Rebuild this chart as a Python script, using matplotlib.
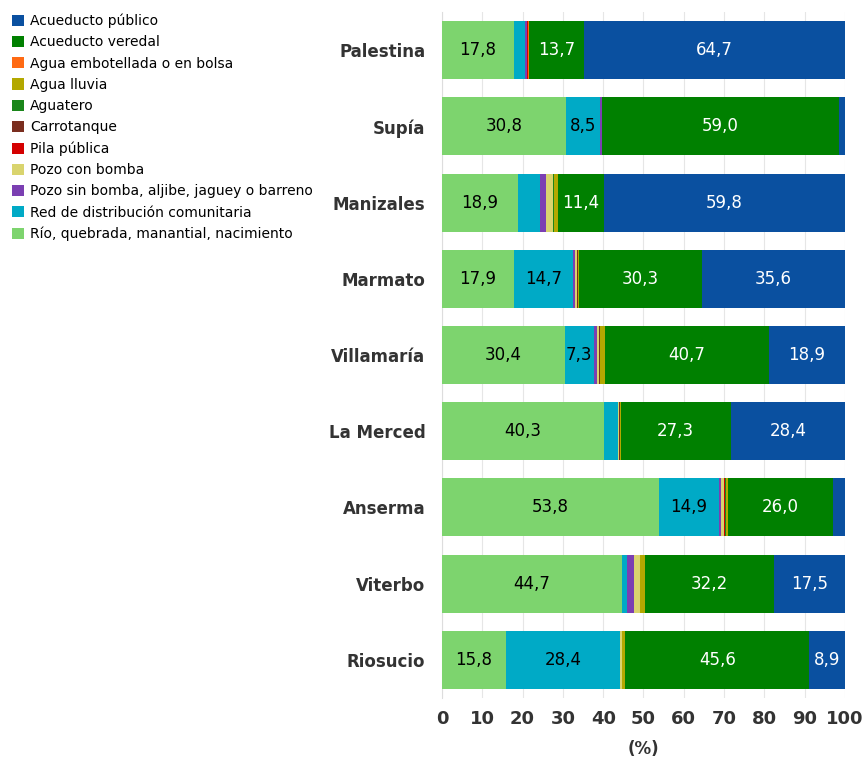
import matplotlib
matplotlib.use("Agg")
import matplotlib.pyplot as plt
import numpy as np
from matplotlib.patches import Patch

# municipios (de arriba hacia abajo)
municipios = ['Palestina', 'Supía', 'Manizales', 'Marmato', 'Villamaría',
              'La Merced', 'Anserma', 'Viterbo', 'Riosucio']

# porcentaje de viviendas por fuente de agua
rio = [17.8, 30.8, 18.9, 17.9, 30.4, 40.3, 53.8, 44.7, 15.8]
red_comunitaria = [2.8, 8.5, 5.4, 14.7, 7.3, 3.3, 14.9, 1.2, 28.4]
pozo_sin_bomba = [0.5, 0.3, 1.5, 0.4, 0.8, 0.0, 0.5, 1.7, 0.0]
pozo_con_bomba = [0.0, 0.0, 1.8, 0.5, 0.5, 0.3, 0.8, 1.5, 0.4]
pila_publica = [0.3, 0.0, 0.0, 0.0, 0.0, 0.0, 0.3, 0.0, 0.0]
carrotanque = [0.0, 0.0, 0.0, 0.2, 0.3, 0.2, 0.0, 0.0, 0.0]
aguatero = [0.0, 0.0, 0.3, 0.0, 0.0, 0.0, 0.2, 0.0, 0.0]
agua_lluvia = [0.0, 0.0, 0.9, 0.4, 1.1, 0.2, 0.4, 1.2, 0.9]
embotellada = [0.2, 0.0, 0.0, 0.0, 0.0, 0.0, 0.0, 0.0, 0.0]
acueducto_veredal = [13.7, 59.0, 11.4, 30.3, 40.7, 27.3, 26.0, 32.2, 45.6]
acueducto_publico = [64.7, 1.4, 59.8, 35.6, 18.9, 28.4, 3.1, 17.5, 8.9]

# orden de apilado (izquierda a derecha): nombre, valores, color, color del texto
series = [
    ('Río, quebrada, manantial, nacimiento', rio, '#7dd46e', 'black'),
    ('Red de distribución comunitaria', red_comunitaria, '#00aac6', 'black'),
    ('Pozo sin bomba, aljibe, jaguey o barreno', pozo_sin_bomba, '#7b3fb2', None),
    ('Pozo con bomba', pozo_con_bomba, '#d9d46e', None),
    ('Pila pública', pila_publica, '#d40000', None),
    ('Carrotanque', carrotanque, '#7a2e1f', None),
    ('Aguatero', aguatero, '#1a861a', None),
    ('Agua lluvia', agua_lluvia, '#b3a800', None),
    ('Agua embotellada o en bolsa', embotellada, '#ff6a13', None),
    ('Acueducto veredal', acueducto_veredal, '#008000', 'white'),
    ('Acueducto público', acueducto_publico, '#0a50a0', 'white'),
]

fig = plt.figure(figsize=(8.67, 7.63), dpi=100)
ax = fig.add_axes([442 / 867, 65 / 763, 403 / 867, 686 / 763])

y = np.arange(len(municipios))
left = np.zeros(len(municipios))
for name, vals, color, txt in series:
    vals = np.array(vals)
    ax.barh(y, vals, left=left, height=0.76, color=color, linewidth=0, zorder=3)
    if txt is not None:
        for yi, (l, v) in enumerate(zip(left, vals)):
            if v >= 7:
                ax.text(l + v / 2, yi, f'{v:.1f}'.replace('.', ','),
                        ha='center', va='center', color=txt, fontsize=12, zorder=4)
    left += vals

ax.set_xlim(0, 100)
ax.set_ylim(len(municipios) - 0.5, -0.5)
ax.set_xticks(np.arange(0, 101, 10))
ax.set_yticks(y)
ax.set_yticklabels(municipios, fontsize=12, fontweight='bold', color='#333333')
ax.tick_params(axis='x', length=0, pad=9, labelsize=13, labelcolor='#333333')
ax.tick_params(axis='y', length=0, pad=12)
for lbl in ax.get_xticklabels():
    lbl.set_fontweight('bold')
ax.grid(axis='x', color='#e6e6e6', linewidth=0.8, zorder=0)
for s in ['top', 'right', 'bottom']:
    ax.spines[s].set_visible(False)
ax.spines['left'].set_color('#dddddd')
ax.set_xlabel('(%)', fontsize=12, fontweight='bold', color='#333333', labelpad=8)

# leyenda en orden alfabético
handles = [Patch(facecolor=c, edgecolor='none', label=n) for n, v, c, t in reversed(series)]
fig.legend(handles=handles, loc='upper left', bbox_to_anchor=(0.004, 0.993),
           frameon=False, fontsize=10, handlelength=0.85, handleheight=0.85,
           handletextpad=0.45, labelspacing=0.52, borderaxespad=0.2)

fig.savefig('out.png', dpi=100)
